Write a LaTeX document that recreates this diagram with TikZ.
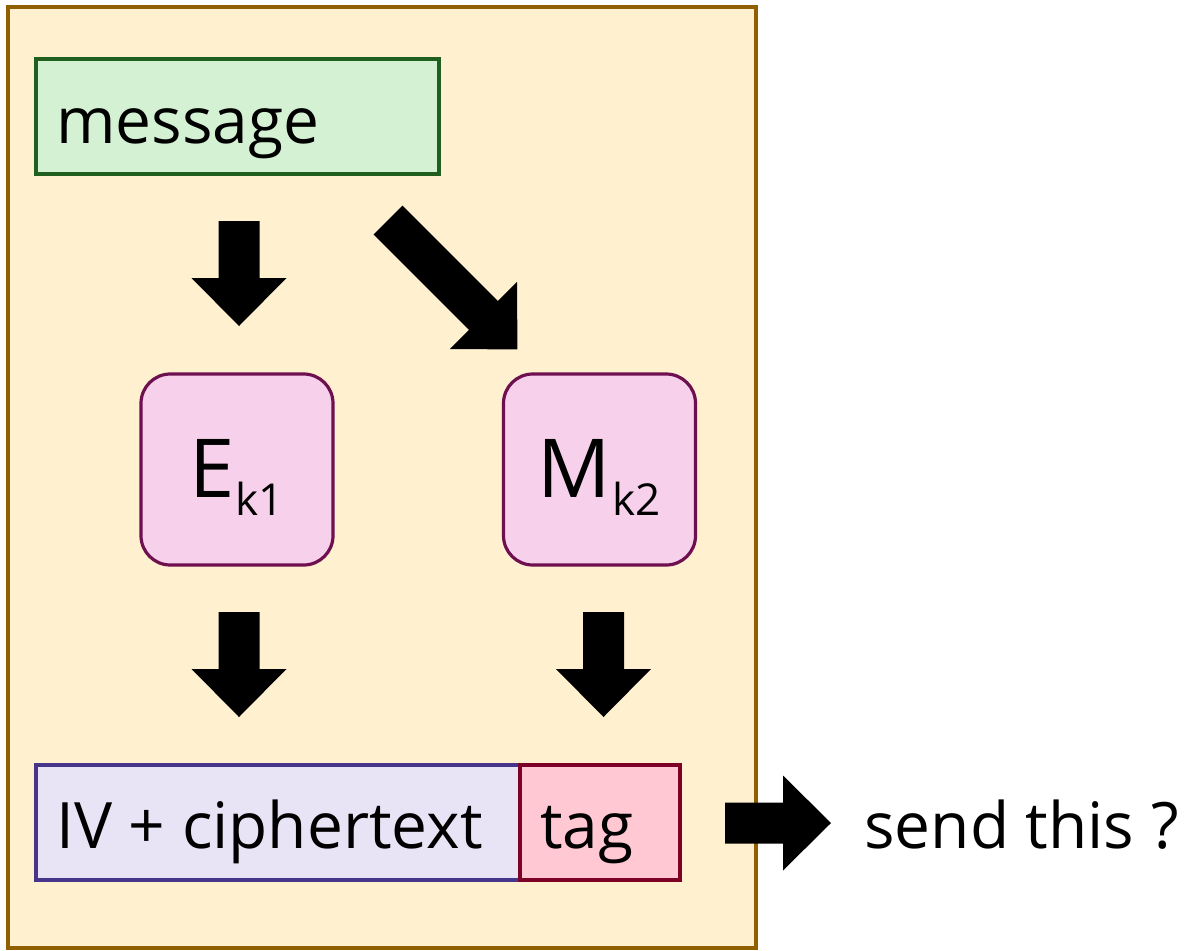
\documentclass[tikz,border=0pt]{standalone}
\usepackage{fontspec}
\setmainfont{Open Sans}
\definecolor{frameFill}{HTML}{FFF0CF}
\definecolor{frameLine}{HTML}{8F5F00}
\definecolor{msgFill}{HTML}{D4F1D4}
\definecolor{msgLine}{HTML}{205F1F}
\definecolor{fnFill}{HTML}{F7D1EB}
\definecolor{fnLine}{HTML}{6E1050}
\definecolor{ctFill}{HTML}{E8E3F5}
\definecolor{ctLine}{HTML}{46358A}
\definecolor{tagFill}{HTML}{FFC8D3}
\definecolor{tagLine}{HTML}{7D0027}
\begin{document}
\begin{tikzpicture}[x=0.75pt,y=-0.75pt,
  box/.style={draw, line width=2.4pt, inner sep=0pt},
  fnbox/.style={box, fill=fnFill, draw=fnLine, rounded corners=22pt,
    minimum width=192*0.75pt, minimum height=191*0.75pt},
  label/.style={anchor=base west, inner sep=0pt, font=\fontsize{48pt}{58pt}\selectfont},
  pics/blockarrow/.style={code={
    \fill (0,-20.5) -- ({#1-48},-20.5) -- ({#1-48},-47.5) -- (#1,0)
      -- ({#1-48},47.5) -- ({#1-48},20.5) -- (0,20.5) -- cycle;}}]
\useasboundingbox (0,0) rectangle (1185,950);

% outer frame
\node[box, fill=frameFill, draw=frameLine, line width=2.6pt, minimum width=748*0.75pt,
  minimum height=941*0.75pt] (frame) at (382,477.5) {};

% message
\node[box, fill=msgFill, draw=msgLine, minimum width=403*0.75pt,
  minimum height=115*0.75pt] (msg) at (237.5,116.5) {};
\node[label] (msgtext) at (56,143) {message};

% encryption and MAC functions
\node[fnbox] (enc) at (237,469.5) {};
\node[fnbox] (mac) at (599.5,469.5) {};
\node[anchor=base west, inner sep=0pt] (enctext) at (189,497)
  {\fontsize{61pt}{61pt}\selectfont E\kern1pt\fontsize{33pt}{33pt}\selectfont\raisebox{-13.5pt}{k1}};
\node[anchor=base west, inner sep=0pt] (mactext) at (537,497)
  {\fontsize{61pt}{61pt}\selectfont M\kern1pt\fontsize{33pt}{33pt}\selectfont\raisebox{-13.5pt}{k2}};

% output blocks
\node[box, fill=ctFill, draw=ctLine, minimum width=484*0.75pt,
  minimum height=115*0.75pt] (ct) at (278,822.5) {};
\node[box, fill=tagFill, draw=tagLine, minimum width=160*0.75pt,
  minimum height=115*0.75pt] (tag) at (600,822.5) {};
\node[label] (cttext) at (56,848) {IV + ciphertext};
\node[label] (tagtext) at (540,848) {tag};
\node[label] (send) at (864,848) {send this ?};

% block arrows
\coordinate (a1) at (239,221);
\coordinate (a2) at (239,612);
\coordinate (a3) at (603.5,612);
\coordinate (a4) at (388,220);
\coordinate (a5) at (725,823);
\pic[rotate=-90] at (a1) {blockarrow=105};
\pic[rotate=-90] at (a2) {blockarrow=105};
\pic[rotate=-90] at (a3) {blockarrow=105};
\pic[rotate=-45] at (a4) {blockarrow=183};
\pic at (a5) {blockarrow=106};
\end{tikzpicture}
\end{document}
